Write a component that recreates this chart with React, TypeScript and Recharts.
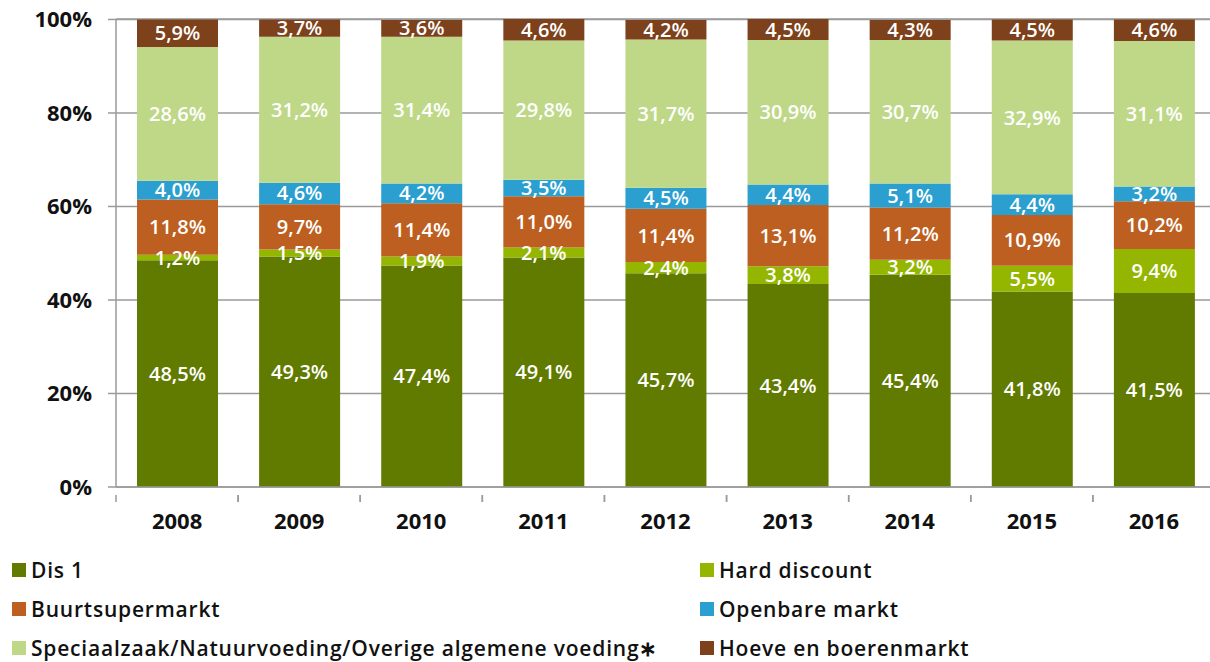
import { BarChart, Bar, XAxis, YAxis, CartesianGrid, LabelList } from "recharts"

const years = ["2008", "2009", "2010", "2011", "2012", "2013", "2014", "2015", "2016"]
const dis1 = [48.5, 49.3, 47.4, 49.1, 45.7, 43.4, 45.4, 41.8, 41.5]
const hardDiscount = [1.2, 1.5, 1.9, 2.1, 2.4, 3.8, 3.2, 5.5, 9.4]
const buurtsupermarkt = [11.8, 9.7, 11.4, 11.0, 11.4, 13.1, 11.2, 10.9, 10.2]
const openbareMarkt = [4.0, 4.6, 4.2, 3.5, 4.5, 4.4, 5.1, 4.4, 3.2]
const speciaalzaak = [28.6, 31.2, 31.4, 29.8, 31.7, 30.9, 30.7, 32.9, 31.1]
const hoeve = [5.9, 3.7, 3.6, 4.6, 4.2, 4.5, 4.3, 4.5, 4.6]
const yTicks = [0, 20, 40, 60, 80, 100]

const series = [
  { key: "dis1", name: "Dis 1", color: "#617a00", values: dis1 },
  { key: "hard", name: "Hard discount", color: "#94b600", values: hardDiscount },
  { key: "buurt", name: "Buurtsupermarkt", color: "#bc5f20", values: buurtsupermarkt },
  { key: "open", name: "Openbare markt", color: "#2a9fd0", values: openbareMarkt },
  {
    key: "spec",
    name: "Speciaalzaak/Natuurvoeding/Overige algemene voeding\u2217",
    color: "#bed888",
    values: speciaalzaak,
  },
  { key: "hoeve", name: "Hoeve en boerenmarkt", color: "#7d411b", values: hoeve },
]

const legendOrder = ["dis1", "hard", "buurt", "open", "spec", "hoeve"]

const data = years.map((year, i) => {
  const row: Record<string, string | number> = { year }
  series.forEach((s) => {
    row[s.key] = s.values[i]
  })
  return row
})

const FONT = "'Open Sans', sans-serif"
const AXIS = "#9a9a9a"
// plot runs past the right edge of the picture, as in the original
const CAT_WIDTH = (1215 - 116) / years.length

function formatPct(v: number): string {
  return `${v.toFixed(1).replace(".", ",")}%`
}

function YearTick(props: any) {
  const { x, y, payload } = props
  return (
    <g>
      <line x1={x - CAT_WIDTH / 2} x2={x - CAT_WIDTH / 2} y1={y} y2={y + 7} stroke={AXIS} strokeWidth={1.5} />
      <line x1={x + CAT_WIDTH / 2} x2={x + CAT_WIDTH / 2} y1={y} y2={y + 7} stroke={AXIS} strokeWidth={1.5} />
      <text x={x} y={y + 34} textAnchor="middle" fontFamily={FONT} fontWeight={700} fontSize={22} fill="#111">
        {payload.value}
      </text>
    </g>
  )
}

export default function App() {
  return (
    <div
      style={{
        position: "absolute",
        left: 0,
        top: 0,
        width: 1210,
        height: 662,
        overflow: "hidden",
        background: "#fff",
      }}
    >
      <BarChart
        width={1215}
        height={540}
        data={data}
        margin={{ top: 19, right: 0, left: 0, bottom: 0 }}
        barSize={81}
      >
        <CartesianGrid vertical={false} stroke={AXIS} strokeWidth={1.5} />
        <XAxis
          dataKey="year"
          height={53}
          axisLine={{ stroke: AXIS, strokeWidth: 1.5 }}
          tickLine={false}
          tick={<YearTick />}
        />
        <YAxis
          width={116}
          domain={[0, 100]}
          ticks={yTicks}
          tickFormatter={(v) => `${v}%`}
          axisLine={{ stroke: AXIS, strokeWidth: 1.5 }}
          tickLine={{ stroke: AXIS, strokeWidth: 1.5 }}
          tickSize={8}
          tickMargin={16}
          tick={{ fill: "#111", fontSize: 22, fontWeight: 700, fontFamily: FONT }}
        />
        {series.map((s) => (
          <Bar key={s.key} dataKey={s.key} stackId="a" fill={s.color} isAnimationActive={false}>
            <LabelList
              dataKey={s.key}
              position="center"
              formatter={(v: any) => formatPct(Number(v))}
              fill="#fff"
              fontSize={20}
              fontWeight={600}
              fontFamily={FONT}
            />
          </Bar>
        ))}
      </BarChart>
      <div
        style={{
          position: "absolute",
          left: 12,
          top: 556,
          width: 1190,
          display: "grid",
          gridTemplateColumns: "688px 500px",
          rowGap: 11,
          fontFamily: FONT,
          fontSize: 21,
          fontWeight: 600,
          letterSpacing: 0.8,
          color: "#111",
        }}
      >
        {legendOrder.map((k) => {
          const s = series.find((x) => x.key === k)!
          return (
            <div key={k} style={{ display: "flex", alignItems: "center", height: 28, whiteSpace: "nowrap" }}>
              <span style={{ display: "inline-block", width: 14, height: 14, background: s.color, marginRight: 5 }} />
              {s.name}
            </div>
          )
        })}
      </div>
    </div>
  )
}
